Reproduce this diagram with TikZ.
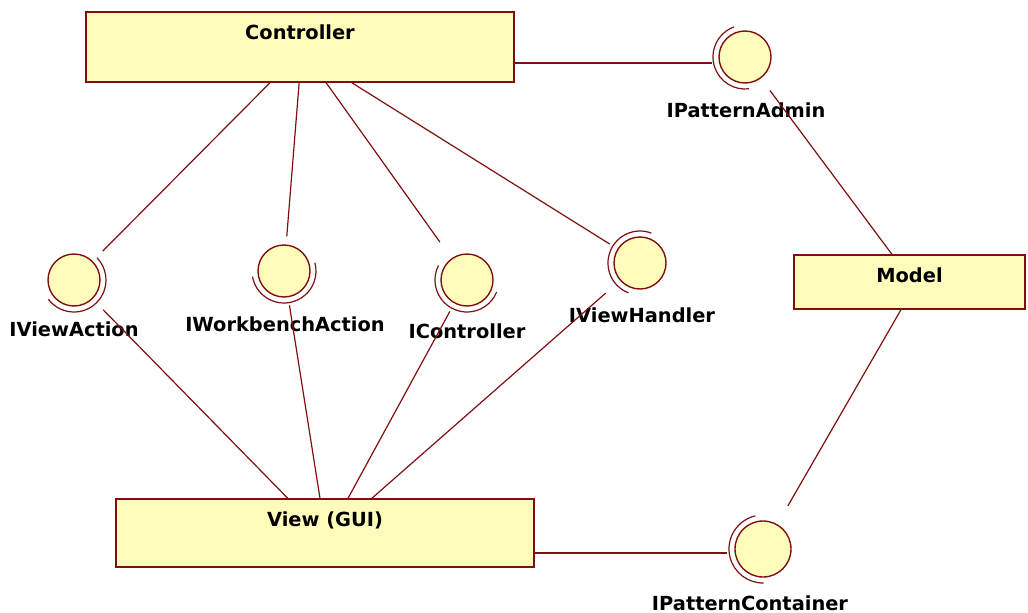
\documentclass[tikz,border=0pt]{standalone}
\usepackage{fontspec}
\setmainfont{DejaVu Sans}
\usetikzlibrary{calc}
\definecolor{umlfill}{HTML}{FFFCBB}
\definecolor{umlline}{HTML}{7E1010}
\begin{document}
\begin{tikzpicture}[x=1pt,y=-1pt,
  box/.style={draw=umlline, line width=1.7pt, fill=umlfill, rectangle, inner sep=0pt},
  iface/.style={draw=umlline, line width=1.4pt, fill=umlfill, circle, inner sep=0pt, minimum size=52pt},
  lbl/.style={font=\bfseries\fontsize{19.4}{23}\selectfont, inner sep=0pt},
  link/.style={draw=umlline, line width=1.2pt},
  ring/.style={draw=umlline, line width=1.2pt}]
\useasboundingbox (0,0) rectangle (1028,613);
\fill[white] (0,0) rectangle (1028,613);

% components
\node[box, minimum width=428pt, minimum height=70pt] (ctrl)  at (300,47)    {};
\node[box, minimum width=418pt, minimum height=68pt] (view)  at (325,533)   {};
\node[box, minimum width=231pt, minimum height=54pt] (model) at (909.5,282) {};
\node[lbl] (ctrlT)  at ([yshift=-21pt]ctrl.north)  {Controller};
\node[lbl] (viewT)  at ([yshift=-22pt]view.north)  {View (GUI)};
\node[lbl] (modelT) at ([yshift=-21pt]model.north) {Model};

% interfaces
\node[iface] (ia)  at (745,57)  {};
\node[iface] (iva) at (74,280)  {};
\node[iface] (iwa) at (284,271) {};
\node[iface] (ic)  at (467,280) {};
\node[iface] (ivh) at (640,263) {};
\node[iface, minimum size=56pt] (ipc) at (763,549) {};

% outer arcs of the interface icons
\draw[ring] (ia)  ++(-110:32) arc[start angle=-110, end angle=-277, radius=32];
\draw[ring] (iva) ++(143:32)  arc[start angle=143,  end angle=-44,  radius=32];
\draw[ring] (iwa) ++(170:32)  arc[start angle=170,  end angle=-15,  radius=32];
\draw[ring] (ic)  ++(-153:32) arc[start angle=-153, end angle=-338, radius=32];
\draw[ring] (ivh) ++(-69:32)  arc[start angle=-69,  end angle=-249, radius=32];
\draw[ring] (ipc) ++(-103:34) arc[start angle=-103, end angle=-271, radius=34];

% interface names
\node[lbl] (iaT)  at (746,110) {IPatternAdmin};
\node[lbl] (ivaT) at (74,329)  {IViewAction};
\node[lbl] (iwaT) at (285,324) {IWorkbenchAction};
\node[lbl] (icT)  at (467,331) {IController};
\node[lbl] (ivhT) at (642,315) {IViewHandler};
\node[lbl] (ipcT) at (750,603) {IPatternContainer};

% Controller links
\draw[link, shorten >=14pt] ($(ctrl.south west)!0.430!(ctrl.south east)$) -- (iva);
\draw[link, shorten >=8pt]  ($(ctrl.south west)!0.498!(ctrl.south east)$) -- (iwa);
\draw[link, shorten >=20pt] ($(ctrl.south west)!0.561!(ctrl.south east)$) -- (ic);
\draw[link, shorten >=9pt]  ($(ctrl.south west)!0.621!(ctrl.south east)$) -- (ivh);
\draw[link, shorten >=6pt]  (ctrl.east |- 0,63) -- (ia.west |- 0,63);

% View links
\draw[link, shorten <=15pt] (iva) -- ($(view.north west)!0.411!(view.north east)$);
\draw[link, shorten <=8pt]  (iwa) -- ($(view.north west)!0.488!(view.north east)$);
\draw[link, shorten <=9pt]  (ic)  -- ($(view.north west)!0.555!(view.north east)$);
\draw[link, shorten <=19pt] (ivh) -- ($(view.north west)!0.612!(view.north east)$);
\draw[link, shorten >=7pt]  (view.east |- 0,553) -- (ipc.west |- 0,553);

% Model links
\draw[link, shorten <=15pt] (ia) -- ($(model.north west)!0.424!(model.north east)$);
\draw[link, shorten >=21pt] ($(model.south west)!0.463!(model.south east)$) -- (ipc);
\end{tikzpicture}
\end{document}
